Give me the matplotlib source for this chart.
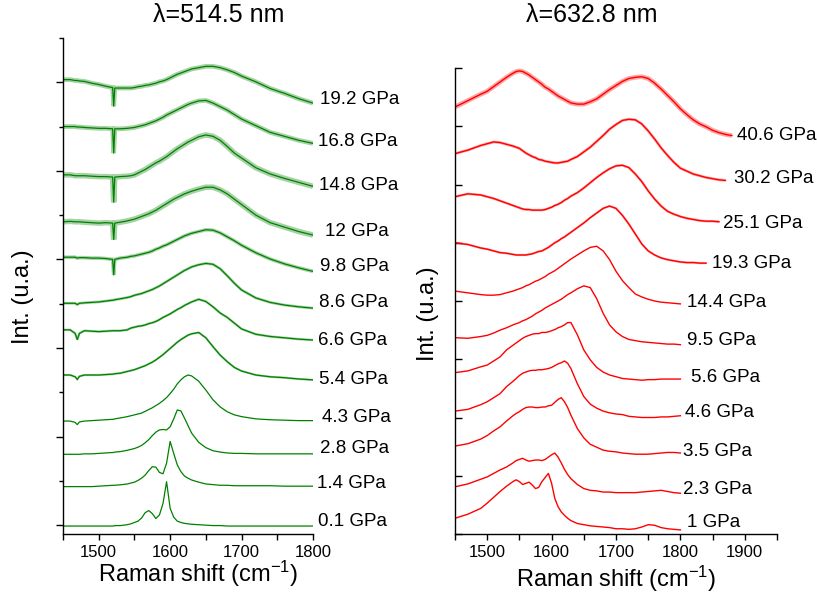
"""
Raman spectra of a carbon sample under pressure, two excitation lines.
Left: 514.5 nm (green), right: 632.8 nm (red). Spectra are stacked with offsets.
"""
import numpy as np
import matplotlib
matplotlib.use("Agg")
import matplotlib.pyplot as plt

plt.rcParams['font.family'] = ['Liberation Sans', 'DejaVu Sans']
plt.rcParams['mathtext.fontset'] = 'custom'
plt.rcParams['mathtext.rm'] = 'Liberation Sans'
plt.rcParams['mathtext.it'] = 'Liberation Sans:italic'

GREEN = '#008000'
RED = '#ff0000'
TXT = '#000000'

# ── Data: 514.5 nm (Raman shift grid, cm-1) ───────────────────────────
XL = [1450, 1460, 1467, 1470, 1473, 1480, 1490, 1500, 1510, 1519.5, 1521, 1522.5,
      1530, 1540, 1545, 1550, 1555, 1560, 1565, 1570, 1575, 1580, 1585, 1590,
      1595, 1600, 1605, 1610, 1615, 1620, 1625, 1630, 1640, 1650, 1660, 1670,
      1680, 1690, 1700, 1720, 1740, 1760, 1780, 1800]

p514 = ['0.1 GPa', '1.4 GPa', '2.8 GPa', '4.3 GPa', '5.4 GPa', '6.6 GPa',
        '8.6 GPa', '9.8 GPa', '12 GPa', '14.8 GPa', '16.8 GPa', '19.2 GPa']
off514 = [-0.02, 0.87, 1.60, 2.35, 3.39, 4.41, 5.01, 6.05, 6.85, 7.91, 9.00, 10.06]

g01 = [0, 0, 0, 0, 0, 0, 0, 0, 0, 0, 0, 0.01,
       0.01, 0.03, 0.05, 0.08, 0.11, 0.18, 0.30, 0.35, 0.28, 0.17, 0.25, 0.51,
       1.0, 0.40, 0.20, 0.11, 0.08, 0.06, 0.05, 0.04, 0.03, 0.02, 0.01, 0.01,
       0, 0, 0, 0, 0, 0, 0, 0]
g14 = [0, 0, 0, 0, 0, 0, 0, 0.01, 0.02, 0.03, 0.03, 0.03,
       0.04, 0.06, 0.08, 0.10, 0.14, 0.19, 0.26, 0.36, 0.45, 0.44, 0.32, 0.29,
       0.53, 1.02, 0.75, 0.49, 0.34, 0.24, 0.19, 0.15, 0.10, 0.06, 0.045, 0.03,
       0.03, 0.02, 0.02, 0.02, 0.02, 0.01, 0.01, 0.01]
g28 = [0, 0, 0, 0, 0, 0.01, 0.01, 0.02, 0.03, 0.04, 0.04, 0.05,
       0.06, 0.09, 0.11, 0.13, 0.16, 0.20, 0.26, 0.33, 0.42, 0.50, 0.55, 0.56,
       0.55, 0.62, 0.80, 1.0, 0.98, 0.82, 0.65, 0.48, 0.27, 0.15, 0.08, 0.05,
       0.03, 0.02, 0.02, 0.01, 0.01, 0.01, 0.01, 0.01]
g43 = [0, 0, -0.03, -0.08, -0.02, 0, 0.01, 0.02, 0.03, 0.04, 0.04, 0.05,
       0.07, 0.10, 0.12, 0.14, 0.16, 0.18, 0.22, 0.26, 0.30, 0.35, 0.40, 0.46,
       0.53, 0.62, 0.72, 0.84, 0.93, 1.0, 1.04, 1.02, 0.90, 0.70, 0.48, 0.32,
       0.21, 0.14, 0.10, 0.05, 0.03, 0.02, 0.01, 0.01]
g54 = [0, 0, -0.04, -0.10, -0.03, 0, 0, 0, 0.01, 0.02, 0.02, 0.03,
       0.04, 0.08, 0.10, 0.12, 0.15, 0.18, 0.21, 0.25, 0.29, 0.34, 0.40, 0.46,
       0.53, 0.60, 0.67, 0.74, 0.80, 0.85, 0.90, 0.93, 0.96, 0.84, 0.64, 0.45,
       0.30, 0.17, 0.09, 0.0, -0.04, -0.06, -0.09, -0.11]
g66 = [0, 0, -0.08, -0.22, -0.08, -0.02, -0.03, -0.04, -0.03, -0.02, -0.02, -0.02,
       -0.02, 0.0, 0.04, 0.06, 0.08, 0.09, 0.11, 0.14, 0.16, 0.19, 0.23, 0.28,
       0.32, 0.36, 0.41, 0.46, 0.50, 0.55, 0.59, 0.63, 0.69, 0.64, 0.52, 0.38,
       0.28, 0.15, 0.02, -0.10, -0.15, -0.18, -0.21, -0.23]
g86 = [0, 0, 0, -0.03, 0, 0.01, 0.02, 0.03, 0.05, 0.07, 0.07, 0.08,
       0.10, 0.13, 0.15, 0.18, 0.20, 0.22, 0.25, 0.28, 0.31, 0.35, 0.39, 0.44,
       0.49, 0.54, 0.59, 0.64, 0.69, 0.74, 0.78, 0.82, 0.87, 0.90, 0.88, 0.78,
       0.62, 0.45, 0.30, 0.12, 0.02, -0.04, -0.08, -0.11]
g98 = [0, 0, 0, -0.02, -0.01, -0.01, -0.02, -0.02, -0.03, -0.05, -0.40, -0.05,
       -0.02, 0.0, 0.02, 0.03, 0.05, 0.07, 0.09, 0.11, 0.14, 0.18, 0.21, 0.25,
       0.28, 0.32, 0.36, 0.40, 0.44, 0.48, 0.51, 0.54, 0.58, 0.62, 0.61, 0.55,
       0.46, 0.37, 0.27, 0.10, -0.04, -0.15, -0.24, -0.32]
g120 = [0, 0.01, 0, 0, 0, -0.01, -0.02, -0.03, -0.02, -0.03, -0.40, -0.03,
        -0.01, 0.02, 0.04, 0.06, 0.09, 0.12, 0.15, 0.18, 0.22, 0.26, 0.31, 0.36,
        0.41, 0.46, 0.51, 0.55, 0.59, 0.63, 0.66, 0.69, 0.74, 0.78, 0.78, 0.72,
        0.63, 0.51, 0.39, 0.15, -0.02, -0.12, -0.22, -0.30]
g148 = [0, 0, -0.02, -0.02, -0.02, -0.02, -0.03, -0.04, -0.04, -0.05, -0.62, -0.05,
        -0.04, -0.03, -0.02, 0.0, 0.04, 0.08, 0.12, 0.17, 0.22, 0.27, 0.31, 0.36,
        0.41, 0.47, 0.53, 0.59, 0.64, 0.69, 0.74, 0.78, 0.86, 0.90, 0.87, 0.78,
        0.64, 0.49, 0.38, 0.16, 0.02, -0.08, -0.17, -0.26]
g168 = [0, 0, 0, -0.01, -0.01, -0.02, -0.03, -0.04, -0.04, -0.05, -0.60, -0.05,
        -0.05, -0.04, -0.03, -0.02, 0.0, 0.02, 0.04, 0.07, 0.10, 0.13, 0.17, 0.21,
        0.26, 0.30, 0.34, 0.38, 0.42, 0.46, 0.50, 0.53, 0.58, 0.59, 0.53, 0.45,
        0.37, 0.27, 0.17, 0.02, -0.13, -0.22, -0.31, -0.38]
g192 = [0, 0.0, -0.02, -0.02, -0.03, -0.04, -0.08, -0.11, -0.15, -0.18, -0.60, -0.19,
        -0.19, -0.19, -0.19, -0.18, -0.16, -0.15, -0.13, -0.12, -0.10, -0.08, -0.05, -0.03,
        0.0, 0.04, 0.08, 0.12, 0.15, 0.18, 0.21, 0.24, 0.27, 0.30, 0.30, 0.27,
        0.22, 0.16, 0.08, -0.05, -0.20, -0.31, -0.43, -0.53]

# ── Data: 632.8 nm ────────────────────────────────────────────────────
XR = [1450, 1470, 1490, 1500, 1510, 1520, 1530, 1540,
      1545, 1550, 1555, 1560, 1565, 1570, 1575, 1580, 1585, 1590,
      1595, 1600, 1605, 1610, 1615, 1620, 1625, 1630,
      1640, 1650, 1660, 1670, 1680, 1690, 1700, 1710, 1720, 1730,
      1740, 1750, 1760, 1770, 1780, 1790, 1800,
      1810, 1820, 1830, 1840, 1850, 1860, 1870, 1880]

p633 = ['1 GPa', '2.3 GPa', '3.5 GPa', '4.6 GPa', '5.6 GPa', '9.5 GPa',
        '14.4 GPa', '19.3 GPa', '25.1 GPa', '30.2 GPa', '40.6 GPa']
off633 = [0.27, 0.81, 1.51, 2.11, 2.77, 3.37, 4.17, 5.00, 5.79, 6.53, 7.33]

r10 = [0, 0.07, 0.17, 0.26, 0.36, 0.46, 0.55, 0.63,
       0.66, 0.63, 0.58, 0.60, 0.62, 0.57, 0.51, 0.53, 0.63, 0.70,
       0.77, 0.60, 0.34, 0.20, 0.11, 0.05, 0.0, -0.04,
       -0.09, -0.11, -0.13, -0.14, -0.15, -0.16, -0.18, -0.18, -0.19, -0.18,
       -0.15, -0.11, -0.12, -0.16, -0.18, -0.19, -0.20]
r23 = [0, 0.05, 0.13, 0.17, 0.23, 0.29, 0.34, 0.41,
       0.45, 0.47, 0.49, 0.46, 0.44, 0.45, 0.46, 0.46, 0.45, 0.47,
       0.51, 0.55, 0.58, 0.51, 0.41, 0.30, 0.21, 0.14,
       0.04, -0.03, -0.06, -0.07, -0.09, -0.09, -0.10, -0.10, -0.10, -0.10,
       -0.09, -0.08, -0.07, -0.06, -0.08, -0.10, -0.11]
r35 = [0, 0.04, 0.12, 0.18, 0.26, 0.33, 0.43, 0.52,
       0.56, 0.59, 0.63, 0.66, 0.67, 0.67, 0.66, 0.66, 0.67, 0.67,
       0.69, 0.70, 0.75, 0.80, 0.83, 0.76, 0.66, 0.53,
       0.30, 0.14, 0.03, -0.02, -0.07, -0.09, -0.10, -0.12, -0.13, -0.14,
       -0.14, -0.14, -0.13, -0.12, -0.11, -0.11, -0.12]
r46 = [0, 0.03, 0.11, 0.16, 0.23, 0.30, 0.42, 0.51,
       0.56, 0.61, 0.65, 0.67, 0.69, 0.70, 0.70, 0.71, 0.71, 0.72,
       0.73, 0.75, 0.78, 0.81, 0.83, 0.86, 0.82, 0.73,
       0.47, 0.25, 0.12, 0.05, 0.0, -0.03, -0.05, -0.06, -0.09, -0.10,
       -0.11, -0.11, -0.11, -0.10, -0.10, -0.09, -0.08]
r56 = [0, 0.03, 0.10, 0.13, 0.20, 0.27, 0.39, 0.47,
       0.51, 0.55, 0.59, 0.62, 0.64, 0.66, 0.67, 0.67, 0.69, 0.69,
       0.70, 0.72, 0.74, 0.77, 0.79, 0.82, 0.86, 0.86,
       0.65, 0.39, 0.22, 0.09, 0.01, -0.04, -0.07, -0.10, -0.11, -0.12,
       -0.13, -0.12, -0.12, -0.11, -0.11, -0.11, -0.11]
r95 = [0, -0.01, 0.02, 0.04, 0.08, 0.13, 0.17, 0.22,
       0.24, 0.26, 0.29, 0.31, 0.34, 0.37, 0.41, 0.44, 0.47, 0.51,
       0.54, 0.57, 0.60, 0.63, 0.66, 0.70, 0.74, 0.77,
       0.84, 0.89, 0.86, 0.67, 0.42, 0.22, 0.10, 0.02, -0.03, -0.05,
       -0.07, -0.08, -0.09, -0.10, -0.11, -0.11, -0.12]
r144 = [0, -0.03, -0.06, -0.07, -0.07, -0.06, -0.03, 0.0,
        0.02, 0.04, 0.06, 0.09, 0.11, 0.14, 0.17, 0.19, 0.22, 0.25,
        0.29, 0.32, 0.35, 0.39, 0.43, 0.47, 0.51, 0.55,
        0.62, 0.69, 0.75, 0.77, 0.69, 0.54, 0.34, 0.18, 0.06, -0.05,
        -0.10, -0.14, -0.17, -0.19, -0.20, -0.21, -0.22]
r193 = [0, -0.03, -0.09, -0.11, -0.14, -0.17, -0.18, -0.20,
        -0.21, -0.21, -0.21, -0.21, -0.20, -0.19, -0.17, -0.15, -0.14, -0.11,
        -0.08, -0.04, 0.0, 0.03, 0.07, 0.10, 0.14, 0.18,
        0.26, 0.34, 0.43, 0.51, 0.59, 0.63, 0.59, 0.47, 0.32, 0.15,
        -0.02, -0.14, -0.21, -0.26, -0.29, -0.31, -0.33,
        -0.34, -0.34, -0.35, -0.35]
r251 = [0, 0.05, 0.03, 0.0, -0.03, -0.07, -0.11, -0.15,
        -0.17, -0.19, -0.21, -0.22, -0.22, -0.23, -0.23, -0.23, -0.23, -0.22,
        -0.20, -0.18, -0.15, -0.13, -0.10, -0.06, -0.03, 0.01,
        0.07, 0.15, 0.24, 0.33, 0.41, 0.48, 0.53, 0.54, 0.50, 0.39,
        0.26, 0.10, -0.04, -0.16, -0.25, -0.30, -0.34,
        -0.37, -0.39, -0.41, -0.42, -0.42, -0.43]
r302 = [0, 0.06, 0.14, 0.17, 0.20, 0.19, 0.16, 0.13,
        0.11, 0.09, 0.05, 0.01, -0.02, -0.05, -0.07, -0.10, -0.11, -0.13,
        -0.14, -0.15, -0.16, -0.16, -0.15, -0.14, -0.13, -0.10,
        -0.05, 0.03, 0.11, 0.21, 0.31, 0.42, 0.50, 0.57, 0.59, 0.58,
        0.51, 0.39, 0.25, 0.10, -0.03, -0.15, -0.25,
        -0.30, -0.35, -0.38, -0.41, -0.43, -0.45, -0.46]
r406 = [0, 0.11, 0.22, 0.27, 0.35, 0.43, 0.51, 0.58,
        0.61, 0.62, 0.61, 0.58, 0.55, 0.51, 0.47, 0.43, 0.39, 0.34,
        0.31, 0.27, 0.23, 0.19, 0.16, 0.13, 0.10, 0.07,
        0.05, 0.05, 0.09, 0.14, 0.22, 0.30, 0.37, 0.44, 0.49, 0.51,
        0.52, 0.49, 0.41, 0.31, 0.20, 0.09, -0.03,
        -0.13, -0.22, -0.29, -0.34, -0.40, -0.44, -0.47, -0.49]

spec514 = [g01, g14, g28, g43, g54, g66, g86, g98, g120, g148, g168, g192]
spec633 = [r10, r23, r35, r46, r56, r95, r144, r193, r251, r302, r406]

# ── Layout / style (not data) ─────────────────────────────────────────
# noisy spectra get a wider, lighter band under the line to suggest noise
lw514 = [0.9, 0.9, 0.9, 1.2, 1.6, 1.8, 2.0, 2.6, 4.0, 4.0, 3.4, 3.4]
lw633 = [1.0, 1.0, 1.0, 1.0, 1.0, 1.2, 1.3, 1.6, 1.8, 2.0, 3.4]
lab514_xy = [(1807, 0.09), (1805.6, 0.95), (1809.8, 1.74), (1812.6, 2.42),
             (1808.4, 3.30), (1807, 4.18), (1808.4, 5.02), (1809.8, 5.83),
             (1816.8, 6.62), (1808.4, 7.68), (1807, 8.66), (1809.8, 9.60)]
lab633_xy = [(1810.2, 0.19), (1804, 0.77), (1804, 1.42), (1807.1, 2.08),
             (1816.5, 2.69), (1810.2, 3.33), (1810.2, 3.98), (1849.1, 4.65),
             (1866.1, 5.33), (1883.2, 6.11), (1887.9, 6.84)]

W, H = 817, 597
fig = plt.figure(figsize=(W / 100, H / 100), dpi=100)
axL = fig.add_axes([63 / W, 63 / H, 250 / W, 496 / H])
axR = fig.add_axes([455 / W, 63 / H, 322 / W, 466 / H])

for s, off, lw in zip(spec514, off514, lw514):
    y = np.array(s) + off
    if lw > 1.5:
        axL.plot(XL, y, color=GREEN, lw=lw, alpha=0.35,
                 solid_joinstyle='miter', solid_capstyle='butt')
    axL.plot(XL, y, color=GREEN, lw=0.9)

for s, off, lw in zip(spec633, off633, lw633):
    y = np.array(s) + off
    x = XR[:len(s)]
    if lw > 1.5:
        axR.plot(x, y, color=RED, lw=lw, alpha=0.35, solid_capstyle='butt')
    axR.plot(x, y, color=RED, lw=1.0)

for lab, (lx, ly) in zip(p514, lab514_xy):
    axL.text(lx, ly, lab, fontsize=13.5, ha='left', va='center',
             color=TXT, clip_on=False)
for lab, (lx, ly) in zip(p633, lab633_xy):
    axR.text(lx, ly, lab, fontsize=13.5, ha='left', va='center',
             color=TXT, clip_on=False)

# ── Axes styling ──────────────────────────────────────────────────────
axL.set_xlim(1450, 1800)
axL.set_ylim(-0.2, 11.0)
axL.set_xticks(range(1450, 1801, 50))
axL.set_xticklabels(['' if t % 100 else str(t) for t in range(1450, 1801, 50)])
axL.set_yticks(range(0, 12, 2))
axL.set_yticks(range(1, 12, 2), minor=True)
axL.set_yticklabels([])
axL.tick_params(axis='y', which='major', direction='out', length=5, width=1)
axL.tick_params(axis='y', which='minor', direction='out', length=3, width=1)

axR.set_xlim(1450, 1950)
axR.set_ylim(0, 8)
axR.set_xticks(range(1450, 1951, 50))
axR.set_xticklabels(['' if t % 100 else str(t) for t in range(1450, 1951, 50)])
axR.set_yticks(range(0, 9))
axR.set_yticklabels([])
axR.tick_params(axis='y', direction='in', length=5, width=1)

for ax in (axL, axR):
    ax.spines['top'].set_visible(False)
    ax.spines['right'].set_visible(False)
    for sp in ('left', 'bottom'):
        ax.spines[sp].set_linewidth(1.0)
    ax.tick_params(axis='x', direction='out', length=4, width=1,
                   labelsize=12, pad=4)
    ax.patch.set_visible(False)

# ── Titles and axis labels (placed in figure pixels) ──────────────────
def ftext(px, py, s, **kw):
    fig.text(px / W, 1 - py / H, s, ha='center', va='center', **kw)

ftext(219, 15, 'λ=514.5 nm', fontsize=18)
ftext(592, 15, 'λ=632.8 nm', fontsize=18)
ftext(198, 574, r'Raman shift (cm$^{\mathrm{-1}}$)', fontsize=17)
ftext(616, 579, r'Raman shift (cm$^{\mathrm{-1}}$)', fontsize=17)
ftext(23, 297, 'Int. (u.a.)', fontsize=17, rotation=90)
ftext(428, 314, 'Int. (u.a.)', fontsize=17, rotation=90)

fig.savefig('out.png', dpi=100)
